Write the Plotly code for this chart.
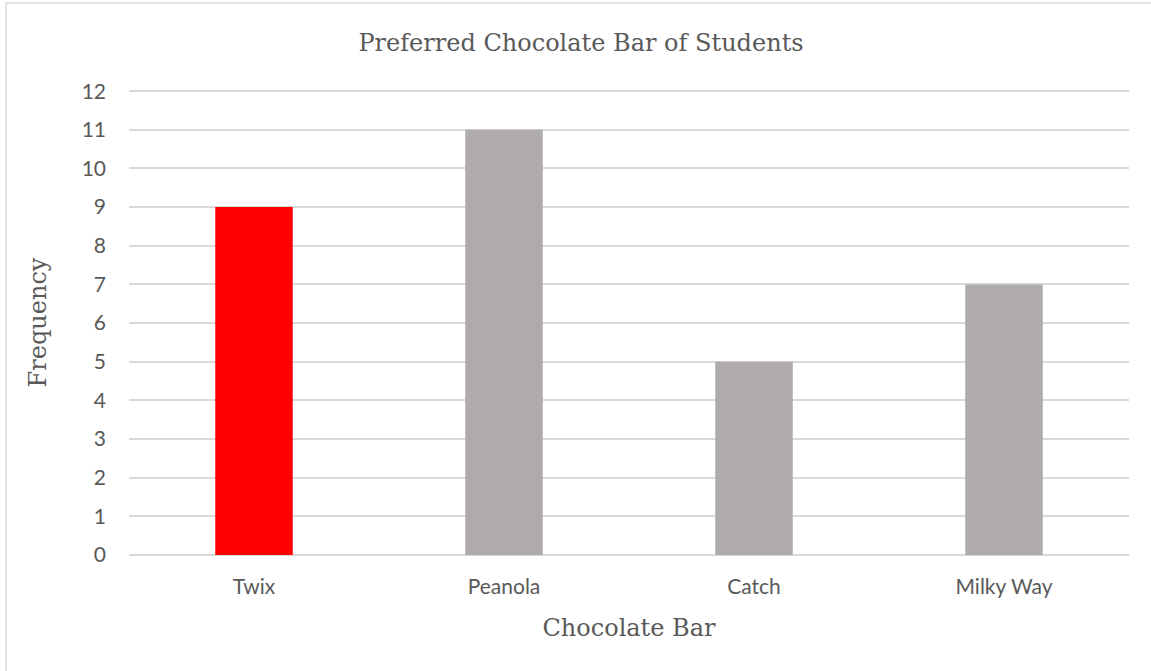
import plotly.graph_objects as go

categories = ["Twix", "Peanola", "Catch", "Milky Way"]
frequency = [9, 11, 5, 7]
bar_colors = ["#FF0000", "#AFABAB", "#AFABAB", "#AFABAB"]
y_ticks = list(range(0, 13))

W, H = 1151, 671
L, R, T, B = 129, 22, 90, 116
pw, ph = W - L - R, H - T - B

fig = go.Figure(go.Bar(x=categories, y=frequency, marker_color=bar_colors,
                       marker_line_width=0, width=0.31))

def px_x(x):
    return (x - L) / pw

def px_y(y):
    return (H - B - y) / ph

fig.add_shape(type="rect", xref="paper", yref="paper",
              x0=px_x(6), x1=px_x(1200), y0=px_y(3), y1=px_y(720),
              line=dict(color="#D9D9D9", width=1.5), fillcolor="rgba(0,0,0,0)", layer="below")

fig.update_layout(
    width=W, height=H,
    margin=dict(l=L, r=R, t=T, b=B),
    paper_bgcolor="white", plot_bgcolor="white",
    showlegend=False,
    title=dict(text="Preferred Chocolate Bar of Students", x=581 / W, xref="container",
               xanchor="center", y=1 - 43 / H, yanchor="middle",
               font=dict(family="DejaVu Serif", size=24, color="#595959")),
    xaxis=dict(range=[-0.5, 3.5], showgrid=False, zeroline=False, showline=False,
               tickfont=dict(family="Lato", size=21, color="#595959"),
               ticklabelstandoff=17,
               title=dict(text="Chocolate Bar", standoff=22,
                          font=dict(family="DejaVu Serif", size=24, color="#595959"))),
    yaxis=dict(range=[0, 12.03], tickvals=y_ticks, showgrid=True, gridcolor="#D9D9D9",
               gridwidth=1.5, zeroline=True, zerolinecolor="#D9D9D9", zerolinewidth=1.5,
               showline=False,
               tickfont=dict(family="Lato", size=21, color="#595959"),
               ticklabelstandoff=22,
               title=dict(text="Frequency", standoff=28,
                          font=dict(family="DejaVu Serif", size=24, color="#595959"))),
)

fig.write_html("out.html")
